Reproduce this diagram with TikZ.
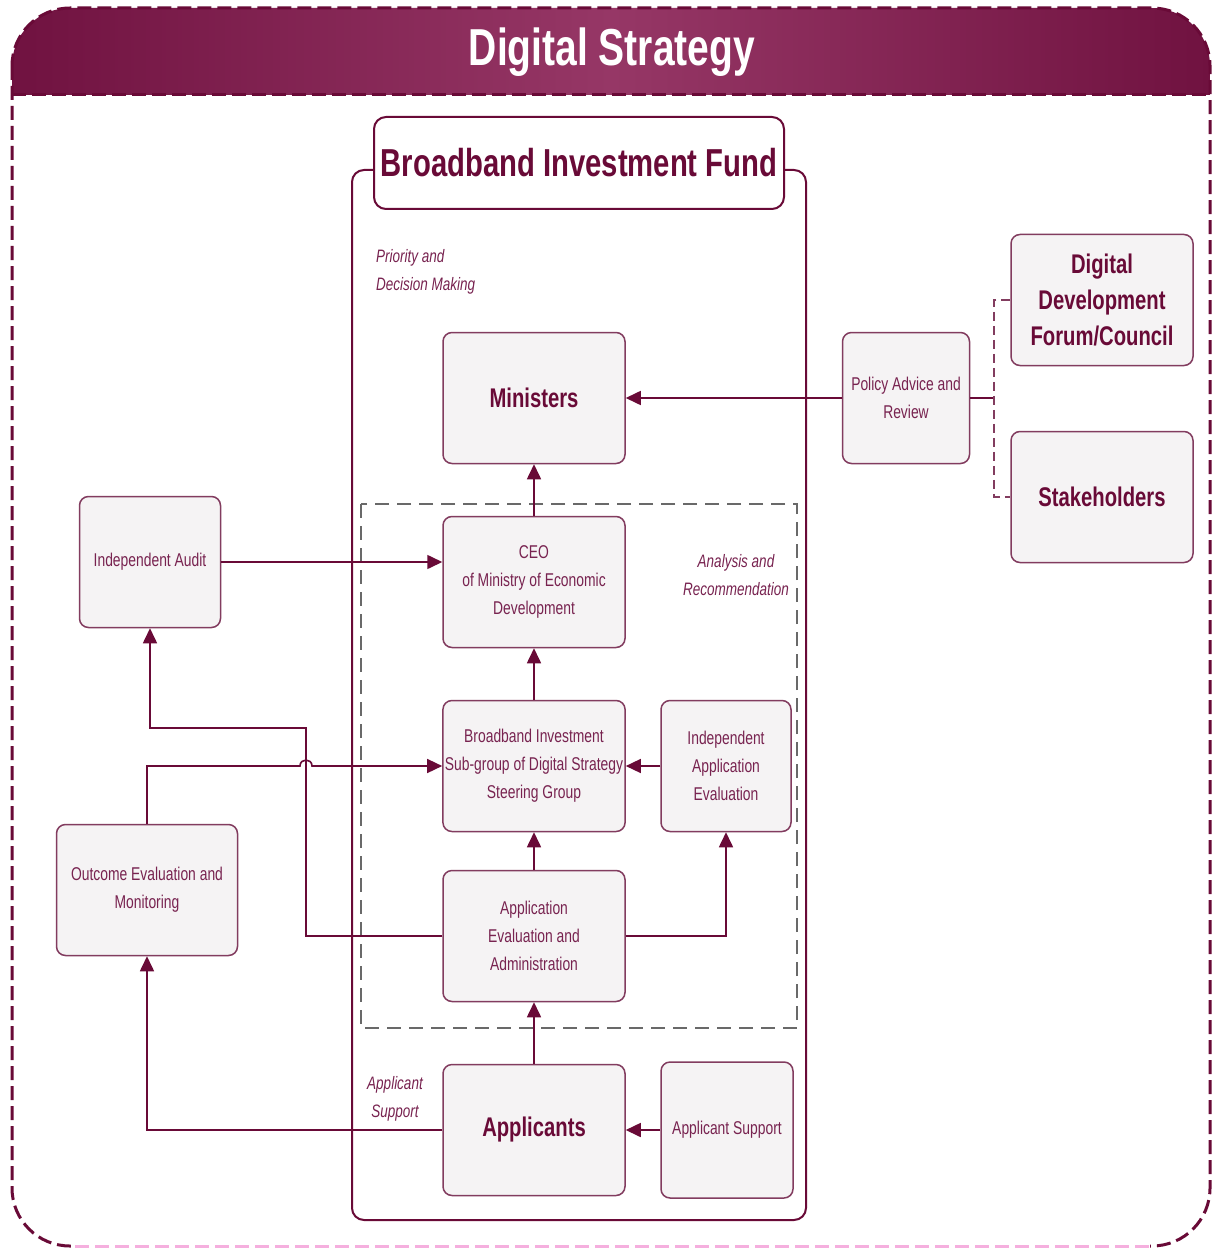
\documentclass[tikz,border=0pt]{standalone}
\usepackage{fontspec}
\setmainfont{Liberation Sans}
\newfontfamily\narrow[FakeStretch=0.75]{Liberation Sans}
\usetikzlibrary{arrows.meta}
\definecolor{mar}{RGB}{105,10,55}
\definecolor{txt}{RGB}{120,35,80}
\definecolor{bline}{RGB}{130,60,95}
\definecolor{bfill}{RGB}{245,243,244}
\definecolor{bandD}{RGB}{112,18,64}
\definecolor{bandL}{RGB}{150,55,102}
\definecolor{pinkd}{RGB}{245,175,222}
\definecolor{gdash}{RGB}{105,105,105}
\tikzset{
  box/.style={draw=bline, fill=bfill, line width=1.5pt, rounded corners=9pt,
    align=center, text=txt, inner sep=2pt,
    font=\narrow\fontsize{18.5}{28}\selectfont},
  bigbox/.style={box, text=mar, font=\narrow\bfseries\fontsize{27}{36}\selectfont},
  conn/.style={draw=mar, line width=1.6pt, -{Triangle[length=15pt,width=14pt]}},
  plain/.style={draw=mar, line width=1.6pt},
  lab/.style={text=txt, align=left, inner sep=0pt, font=\narrow\itshape\fontsize{18}{28}\selectfont},
}
\begin{document}
\begin{tikzpicture}[x=1pt,y=-1pt]
\useasboundingbox[fill=white] (0,0) rectangle (1214,1249);
% title band
\begin{scope}
  \clip[rounded corners=58pt] (12,8) rectangle (1210,1246);
  \shade[left color=bandD, right color=bandD, middle color=bandL] (12,8) rectangle (1210,95);
\end{scope}
\node[text=white, font=\narrow\bfseries\fontsize{52}{60}\selectfont] (title) at (612,52) {Digital Strategy};
% outer frame
\draw[mar, line width=3pt, dash pattern=on 14pt off 6pt, rounded corners=58pt] (12,8) rectangle (1210,1246);
\draw[white, line width=4pt] (75,1246) -- (1150,1246);
\draw[pinkd, line width=3pt, dash pattern=on 14pt off 6pt] (75,1246) -- (1150,1246);
\draw[mar, line width=3pt, dash pattern=on 14pt off 6pt] (12,95) -- (1210,95);
% BIF container
\draw[mar, line width=2pt, rounded corners=12pt] (352,170) rectangle (806,1220);
\node[draw=mar, fill=white, line width=2pt, rounded corners=12pt, minimum width=410pt, minimum height=92pt,
  text=mar, font=\narrow\bfseries\fontsize{39}{44}\selectfont] (bif) at (579,163) {Broadband Investment Fund};
% dashed analysis region
\draw[gdash, line width=1.5pt, dash pattern=on 14pt off 8pt] (361,504) rectangle (797,1028);
% labels
\node[lab, anchor=north west] (l1) at (376,249) {Priority and\\Decision Making};
\node[lab, align=center] (l2) at (736,575) {Analysis and\\Recommendation};
\node[lab, align=center] (l3) at (395,1099) {Applicant\\Support};
% nodes
\node[bigbox, minimum width=182pt, minimum height=131pt] (min) at (534,398) {Ministers};
\node[box, minimum width=182pt, minimum height=131pt] (ceo) at (534,582) {CEO\\of Ministry of Economic\\Development};
\node[box, minimum width=182pt, minimum height=131pt] (bis) at (534,766) {Broadband Investment\\Sub-group of Digital Strategy\\Steering Group};
\node[box, minimum width=130pt, minimum height=131pt] (iae) at (726,766) {Independent\\Application\\Evaluation};
\node[box, minimum width=182pt, minimum height=131pt] (aea) at (534,936) {Application\\Evaluation and\\Administration};
\node[bigbox, minimum width=182pt, minimum height=131pt] (app) at (534,1130) {Applicants};
\node[box, minimum width=132pt, minimum height=136pt] (asup) at (727,1130) {Applicant Support};
\node[box, minimum width=141pt, minimum height=131pt] (audit) at (150,562) {Independent Audit};
\node[box, minimum width=181pt, minimum height=131pt] (outc) at (147,890) {Outcome Evaluation and\\Monitoring};
\node[box, minimum width=127pt, minimum height=131pt] (pol) at (906,398) {Policy Advice and\\Review};
\node[bigbox, minimum width=182pt, minimum height=131pt] (ddf) at (1102,300) {Digital\\Development\\Forum/Council};
\node[bigbox, minimum width=182pt, minimum height=131pt] (stk) at (1102,497) {Stakeholders};
% connectors
\coordinate (br) at (994,398);
\draw[conn] (pol.west) -- (min.east);
\draw[plain] (pol.east) -- (br);
\draw[bline, line width=1.5pt, dash pattern=on 9pt off 5pt] (ddf.west) -- (994,300) -- (994,497) -- (stk.west);
\draw[conn] (ceo.north) -- (min.south);
\draw[conn] (bis.north) -- (ceo.south);
\draw[conn] (aea.north) -- (bis.south);
\draw[conn] (app.north) -- (aea.south);
\draw[conn] (asup.west) -- (app.east);
\draw[conn] (iae.west) -- (bis.east);
\draw[conn] (aea.east) -| (iae.south);
\draw[conn] (audit.east) -- (audit.east -| ceo.west);
\draw[conn] (aea.west) -- (306,936) -- (306,728) -- (150,728) -- (audit.south);
\draw[conn] (outc.north) -- (147,766) -- (300,766) .. controls (300,758) and (312,758) .. (312,766) -- (bis.west);
\draw[conn] (app.west) -- (147,1130) -- (outc.south);
\end{tikzpicture}
\end{document}
